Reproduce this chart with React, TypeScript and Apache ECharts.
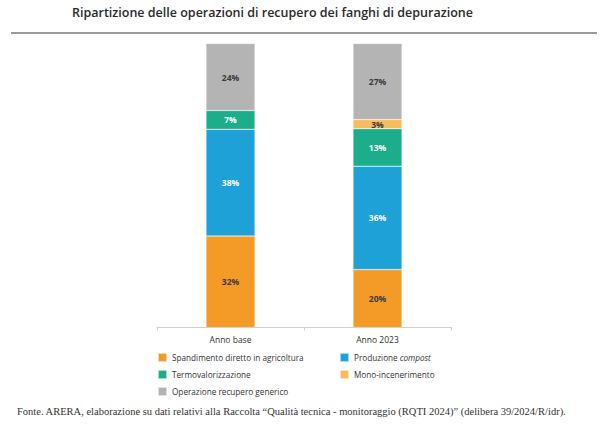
import React, { useEffect, useRef } from "react";
import * as echarts from "echarts";

const categories = ["Anno base", "Anno 2023"];
const seriesNames = [
  "Spandimento diretto in agricoltura",
  "Produzione compost",
  "Termovalorizzazione",
  "Mono-incenerimento",
  "Operazione recupero generico",
];
const spandimento = [32.2, 20.4];
const compost = [37.6, 36.4];
const termo = [6.6, 13.2];
const mono = [null, 3.2];
const generico = [23.6, 26.8];

const colors = ["#F39A27", "#1EA1D7", "#1CAE8B", "#F8BB5E", "#B4B4B5"];
const labelColors = ["#3a3a3a", "#ffffff", "#ffffff", "#3a3a3a", "#3a3a3a"];

const title = "Ripartizione delle operazioni di recupero dei fanghi di depurazione";
const source =
  "Fonte. ARERA, elaborazione su dati relativi alla Raccolta \u201CQualit\u00E0 tecnica - monitoraggio (RQTI 2024)\u201D (delibera 39/2024/R/idr).";

export default function App() {
  const ref = useRef<HTMLDivElement>(null);
  useEffect(() => {
    if (!ref.current) return;
    const chart = echarts.init(ref.current, undefined, { renderer: "svg" });
    const values = [spandimento, compost, termo, mono, generico];
    const font = "'Open Sans', 'Noto Sans', sans-serif";
    const legendText = {
      fontSize: 8.2,
      color: "#333",
      fontFamily: font,
      rich: {
        i: { fontSize: 8.2, color: "#333", fontFamily: font, fontStyle: "italic" },
      },
    };
    chart.setOption({
      animation: false,
      grid: { left: 157, right: 159, top: 43.5, bottom: 105.5 },
      xAxis: {
        type: "category",
        data: categories,
        axisLine: { lineStyle: { color: "#cfcfcf", width: 1 } },
        axisTick: { show: true, length: 3, lineStyle: { color: "#cfcfcf" } },
        axisLabel: { fontSize: 8.5, color: "#333", fontFamily: font, margin: 7 },
      },
      yAxis: { type: "value", min: 0, max: 100, show: false },
      legend: [
        {
          orient: "vertical",
          left: 157,
          top: 352,
          padding: 0,
          itemWidth: 9,
          itemHeight: 9,
          itemGap: 6,
          icon: "rect",
          textStyle: legendText,
          data: [seriesNames[0], seriesNames[2], seriesNames[4]],
        },
        {
          orient: "vertical",
          left: 339,
          top: 352,
          padding: 0,
          itemWidth: 9,
          itemHeight: 9,
          itemGap: 6,
          icon: "rect",
          textStyle: legendText,
          formatter: (n: string) =>
            n === "Produzione compost" ? "Produzione {i|compost}" : n,
          data: [seriesNames[1], seriesNames[3]],
        },
      ],
      graphic: [
        {
          type: "text",
          left: 72,
          top: 6,
          style: {
            text: title,
            fontSize: 12.5,
            fontWeight: 600,
            fontFamily: font,
            fill: "#2a2a2a",
          },
        },
        {
          type: "line",
          shape: { x1: 11, y1: 33, x2: 597, y2: 33 },
          style: { stroke: "#7a7a7a", lineWidth: 1.5 },
        },
        {
          type: "text",
          left: 17,
          top: 406,
          style: {
            text: source,
            fontSize: 10.5,
            fontFamily: "'Liberation Serif', 'DejaVu Serif', serif",
            fill: "#333",
          },
        },
      ],
      series: seriesNames.map((name, i) => ({
        name,
        type: "bar",
        stack: "total",
        barWidth: 49,
        data: values[i],
        itemStyle: { color: colors[i], borderColor: "rgba(255,255,255,0.6)", borderWidth: 0.5 },
        label: {
          show: true,
          position: "inside",
          fontSize: 8.5,
          fontWeight: "bold",
          fontFamily: font,
          color: labelColors[i],
          formatter: (p: any) => (p.value == null ? "" : Math.round(p.value) + "%"),
        },
      })),
    });
    return () => chart.dispose();
  }, []);
  return (
    <div
      ref={ref}
      style={{ position: "fixed", left: 0, top: 0, width: 610, height: 433, background: "#fff" }}
    />
  );
}
